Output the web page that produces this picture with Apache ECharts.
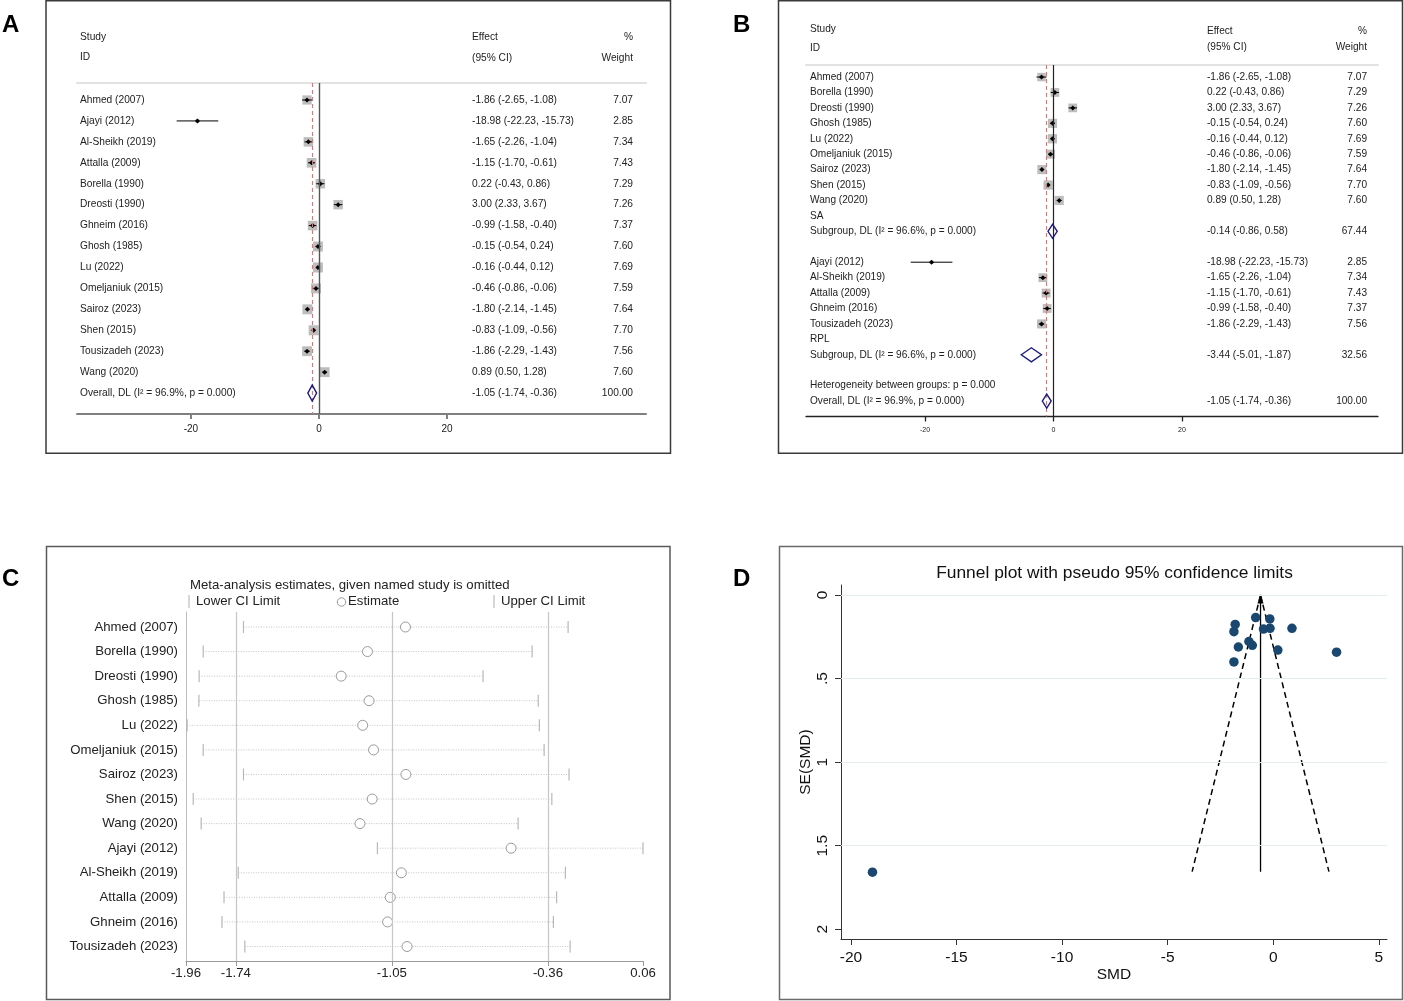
<!DOCTYPE html>
<html><head><meta charset="utf-8">
<script src="https://cdn.jsdelivr.net/npm/echarts@6/dist/echarts.min.js"></script>
<style>html,body{margin:0;padding:0;background:#fff}#c{width:1404px;height:1001px}</style>
</head><body><div id="c"></div>
<script>
const FONT = "'Liberation Sans', Arial, sans-serif";

// ---------- Data: studies (panel A order) ----------
const studies = ['Ahmed (2007)', 'Ajayi (2012)', 'Al-Sheikh (2019)', 'Attalla (2009)', 'Borella (1990)', 'Dreosti (1990)', 'Ghneim (2016)', 'Ghosh (1985)', 'Lu (2022)', 'Omeljaniuk (2015)', 'Sairoz (2023)', 'Shen (2015)', 'Tousizadeh (2023)', 'Wang (2020)'];
const effect = [-1.86, -18.98, -1.65, -1.15, 0.22, 3.00, -0.99, -0.15, -0.16, -0.46, -1.80, -0.83, -1.86, 0.89];
const lowerCI = [-2.65, -22.23, -2.26, -1.70, -0.43, 2.33, -1.58, -0.54, -0.44, -0.86, -2.14, -1.09, -2.29, 0.50];
const upperCI = [-1.08, -15.73, -1.04, -0.61, 0.86, 3.67, -0.40, 0.24, 0.12, -0.06, -1.45, -0.56, -1.43, 1.28];
const weight = [7.07, 2.85, 7.34, 7.43, 7.29, 7.26, 7.37, 7.60, 7.69, 7.59, 7.64, 7.70, 7.56, 7.60];

// overall pooled
const overallLabel = 'Overall, DL (I² = 96.9%, p = 0.000)';
const overallEff = -1.05, overallLow = -1.74, overallUp = -0.36, overallWt = 100.00;

// ---------- Panel B subgroups ----------
const groupSA = ['Ahmed (2007)', 'Borella (1990)', 'Dreosti (1990)', 'Ghosh (1985)', 'Lu (2022)', 'Omeljaniuk (2015)', 'Sairoz (2023)', 'Shen (2015)', 'Wang (2020)'];
const groupRPL = ['Ajayi (2012)', 'Al-Sheikh (2019)', 'Attalla (2009)', 'Ghneim (2016)', 'Tousizadeh (2023)'];
const subLabels = ['Subgroup, DL (I² = 96.6%, p = 0.000)', 'Subgroup, DL (I² = 96.6%, p = 0.000)'];
const subEff = [-0.14, -3.44];
const subLow = [-0.86, -5.01];
const subUp = [0.58, -1.87];
const subWt = [67.44, 32.56];
const hetText = 'Heterogeneity between groups: p = 0.000';

// ---------- Panel C leave-one-out ----------
const studiesC = ['Ahmed (2007)', 'Borella (1990)', 'Dreosti (1990)', 'Ghosh (1985)', 'Lu (2022)', 'Omeljaniuk (2015)', 'Sairoz (2023)', 'Shen (2015)', 'Wang (2020)', 'Ajayi (2012)', 'Al-Sheikh (2019)', 'Attalla (2009)', 'Ghneim (2016)', 'Tousizadeh (2023)'];
const estC = [-0.990, -1.158, -1.274, -1.151, -1.179, -1.131, -0.988, -1.137, -1.191, -0.523, -1.008, -1.057, -1.069, -0.983];
const lowC = [-1.706, -1.884, -1.902, -1.903, -1.955, -1.884, -1.706, -1.928, -1.893, -1.114, -1.729, -1.792, -1.801, -1.700];
const upC = [-0.271, -0.430, -0.647, -0.403, -0.398, -0.377, -0.267, -0.343, -0.492, 0.060, -0.283, -0.322, -0.336, -0.262];
const ticksC = [-1.96, -1.74, -1.05, -0.36, 0.06];
const gridC = [-1.74, -1.05, -0.36];

// ---------- Panel D funnel ----------
const seD = [0.400, 1.658, 0.311, 0.278, 0.329, 0.342, 0.301, 0.199, 0.143, 0.204, 0.176, 0.135, 0.219, 0.199];
const funnelMid = [[-0.6, 0], [-0.6, 1.655]];
const funnelLeft = [[-0.6, 0], [-3.84, 1.655]];
const funnelRight = [[-0.6, 0], [2.64, 1.655]];
const ticksDx = [-20, -15, -10, -5, 0, 5];
const ticksDy = [0, 0.5, 1, 1.5, 2];
const ticksDyLabels = ['0', '.5', '1', '1.5', '2'];
const gridDy = [0, 0.5, 1, 1.5];
const forestTicks = [-20, 0, 20];

// ---------- builders ----------
const grids = [], xAxes = [], yAxes = [], series = [];
function fmtEff(e, l, u) { return e.toFixed(2) + ' (' + l.toFixed(2) + ', ' + u.toFixed(2) + ')'; }

const rowsA = studies.map((s, i) => ({kind: 'study', label: s, eff: effect[i], low: lowerCI[i], up: upperCI[i], wt: weight[i]}));
rowsA.push({kind: 'pooled', label: overallLabel, eff: overallEff, low: overallLow, up: overallUp, wt: overallWt});

function studyRow(name) { const i = studies.indexOf(name); return {kind: 'study', label: name, eff: effect[i], low: lowerCI[i], up: upperCI[i], wt: weight[i]}; }
const rowsB = [];
groupSA.forEach(n => rowsB.push(studyRow(n)));
rowsB.push({kind: 'text', label: 'SA'});
rowsB.push({kind: 'pooled', label: subLabels[0], eff: subEff[0], low: subLow[0], up: subUp[0], wt: subWt[0]});
rowsB.push({kind: 'blank'});
groupRPL.forEach(n => rowsB.push(studyRow(n)));
rowsB.push({kind: 'text', label: 'RPL'});
rowsB.push({kind: 'pooled', label: subLabels[1], eff: subEff[1], low: subLow[1], up: subUp[1], wt: subWt[1]});
rowsB.push({kind: 'blank'});
rowsB.push({kind: 'text', label: hetText});
rowsB.push({kind: 'pooled', label: overallLabel, eff: overallEff, low: overallLow, up: overallUp, wt: overallWt});

function buildForest(o) {
  const gi = grids.length;
  grids.push({left: o.left, top: o.top, width: o.right - o.left, height: o.bottom - o.top, outerBoundsMode: 'none', containLabel: false});
  const xi = xAxes.length, yi = yAxes.length;
  const rows = o.rows;
  const ls = {color: o.axisColor, width: o.axisWidth};
  xAxes.push({gridIndex: gi, type: 'value', min: o.xMin, max: o.xMax,
    axisLine: {show: true, onZero: false, lineStyle: ls},
    axisTick: {show: true, customValues: forestTicks, length: 5, lineStyle: ls},
    axisLabel: {show: true, customValues: forestTicks, fontSize: o.tickFont, fontFamily: FONT, color: '#222', margin: o.tickMargin},
    splitLine: {show: false}});
  xAxes.push({gridIndex: gi, type: 'value', position: 'top', min: o.xMin, max: o.xMax,
    axisLine: {show: true, onZero: false, lineStyle: {color: '#e2e2e2', width: 2}},
    axisTick: {show: false}, axisLabel: {show: false}, splitLine: {show: false}});
  const all = rows.map((r, i) => i);
  const base = {gridIndex: gi, type: 'value', inverse: true, min: o.yMin, max: o.yMax,
    axisLine: {show: false}, axisTick: {show: false}, splitLine: {show: false}};
  const lab = {fontSize: o.font, fontFamily: FONT, color: '#222', inside: true};
  yAxes.push(Object.assign({}, base, {position: 'left',
    axisLabel: Object.assign({}, lab, {margin: o.labelInset, align: 'left',
      customValues: all.filter(i => rows[i].label), formatter: v => rows[Math.round(v)].label})}));
  yAxes.push(Object.assign({}, base, {position: 'right',
    axisLabel: Object.assign({}, lab, {margin: o.effInset, align: 'left',
      customValues: all.filter(i => rows[i].eff != null),
      formatter: v => { const r = rows[Math.round(v)]; return fmtEff(r.eff, r.low, r.up); }})}));
  yAxes.push(Object.assign({}, base, {position: 'right',
    axisLabel: Object.assign({}, lab, {margin: o.wtInset, align: 'right',
      customValues: all.filter(i => rows[i].wt != null),
      formatter: v => rows[Math.round(v)].wt.toFixed(2)})}));

  const sRows = all.filter(i => rows[i].kind === 'study');
  const pRows = all.filter(i => rows[i].kind === 'pooled');
  // reference lines
  series.push({type: 'scatter', xAxisIndex: xi, yAxisIndex: yi, z: 1, silent: true, data: [],
    markLine: {silent: true, symbol: ['none', 'none'], label: {show: false}, animation: false,
      data: [
        {xAxis: 0, lineStyle: {color: o.zeroColor, width: o.zeroWidth, type: 'solid'}},
        {xAxis: overallEff, lineStyle: {color: '#c97f82', width: 1.1, type: [4, 3]}}
      ]}});
  // weight boxes
  series.push({type: 'scatter', xAxisIndex: xi, yAxisIndex: yi, z: 2, silent: true, symbol: 'rect',
    symbolSize: v => v[2] * o.boxScale, itemStyle: {color: '#bdbdbd', opacity: 1},
    data: sRows.map(i => [rows[i].eff, i, rows[i].wt])});
  // CI lines
  series.push({type: 'custom', xAxisIndex: xi, yAxisIndex: yi, z: 3, silent: true, encode: {x: [1, 2], y: 0},
    data: sRows.map(i => [i, rows[i].low, rows[i].up]),
    renderItem: (p, api) => {
      const a = api.coord([api.value(1), api.value(0)]), b = api.coord([api.value(2), api.value(0)]);
      return {type: 'line', shape: {x1: a[0], y1: a[1], x2: b[0], y2: b[1]}, style: {stroke: '#000', lineWidth: 1}};
    }});
  // point estimates
  series.push({type: 'scatter', xAxisIndex: xi, yAxisIndex: yi, z: 4, silent: true, symbol: 'diamond', symbolSize: 5,
    itemStyle: {color: '#000', opacity: 1}, data: sRows.map(i => [rows[i].eff, i])});
  // pooled diamonds
  const h = o.diamondHalf;
  series.push({type: 'custom', xAxisIndex: xi, yAxisIndex: yi, z: 5, silent: true, encode: {x: [1, 2, 3], y: 0},
    data: pRows.map(i => [i, rows[i].eff, rows[i].low, rows[i].up]),
    renderItem: (p, api) => {
      const r = api.value(0);
      const c = api.coord([api.value(1), r]), l = api.coord([api.value(2), r]), u = api.coord([api.value(3), r]);
      return {type: 'polygon', shape: {points: [[l[0], c[1]], [c[0], c[1] - h], [u[0], c[1]], [c[0], c[1] + h]]},
        style: {fill: 'none', stroke: '#1d1d7e', lineWidth: 1.4}};
    }});
}

buildForest({rows: rowsA, left: 77, right: 646, top: 83, bottom: 414, xMin: -37.8, xMax: 51.1,
  yMin: -0.812, yMax: 15.0, font: 10.2, tickFont: 10, tickMargin: 10, axisColor: '#808080', axisWidth: 2,
  labelInset: 3, effInset: 174, wtInset: 13, zeroColor: '#555', zeroWidth: 1.4, boxScale: 1.3, diamondHalf: 8});
buildForest({rows: rowsB, left: 806, right: 1378, top: 65, bottom: 416.5, xMin: -38.52, xMax: 50.51,
  yMin: -0.78, yMax: 22.0, font: 10.1, tickFont: 7, tickMargin: 10, axisColor: '#222', axisWidth: 1.3,
  labelInset: 4, effInset: 171, wtInset: 11, zeroColor: '#222', zeroWidth: 1.2, boxScale: 1.2, diamondHalf: 7});

// ---------- Panel C ----------
(function () {
  const gi = grids.length;
  grids.push({left: 186, top: 612, width: 457, height: 349, outerBoundsMode: 'none', containLabel: false});
  const xi = xAxes.length, yi = yAxes.length;
  xAxes.push({gridIndex: gi, type: 'value', min: -1.96, max: 0.06,
    axisLine: {show: true, onZero: false, lineStyle: {color: '#9a9a9a', width: 1}},
    axisTick: {show: true, customValues: ticksC, length: 5, lineStyle: {color: '#9a9a9a'}},
    axisLabel: {customValues: ticksC, formatter: v => v.toFixed(2), fontSize: 13.2, fontFamily: FONT, color: '#222', margin: 6},
    splitLine: {show: false}});
  const idx = studiesC.map((s, i) => i);
  yAxes.push({gridIndex: gi, type: 'value', inverse: true, min: -0.61, max: 13.59,
    axisLine: {show: true, onZero: false, lineStyle: {color: '#bdbdbd', width: 1}},
    axisTick: {show: false}, splitLine: {show: false},
    axisLabel: {customValues: idx, formatter: v => studiesC[Math.round(v)], fontSize: 13.2, fontFamily: FONT, color: '#222', margin: 8}});
  series.push({type: 'scatter', xAxisIndex: xi, yAxisIndex: yi, data: [], z: 1, silent: true,
    markLine: {silent: true, symbol: ['none', 'none'], label: {show: false}, animation: false,
      lineStyle: {color: '#c6c6c6', width: 1.2, type: 'solid'}, data: gridC.map(v => ({xAxis: v}))}});
  series.push({type: 'custom', xAxisIndex: xi, yAxisIndex: yi, z: 2, silent: true, encode: {x: [1, 2], y: 0},
    data: idx.map(i => [i, lowC[i], upC[i]]),
    renderItem: (p, api) => {
      const a = api.coord([api.value(1), api.value(0)]), b = api.coord([api.value(2), api.value(0)]);
      return {type: 'line', shape: {x1: a[0], y1: a[1], x2: b[0], y2: b[1]}, style: {stroke: '#c4c4c4', lineWidth: 1, lineDash: [1, 1.5]}};
    }});
  const cap = {type: 'scatter', xAxisIndex: xi, yAxisIndex: yi, z: 3, silent: true, symbol: 'rect', symbolSize: [1.2, 12], itemStyle: {color: '#b8b8b8', opacity: 1}};
  series.push(Object.assign({}, cap, {name: 'Lower CI Limit', data: idx.map(i => [lowC[i], i])}));
  series.push(Object.assign({}, cap, {name: 'Upper CI Limit', data: idx.map(i => [upC[i], i])}));
  series.push({type: 'scatter', name: 'Estimate', xAxisIndex: xi, yAxisIndex: yi, z: 4, silent: true, symbol: 'circle', symbolSize: 10,
    itemStyle: {color: '#fff', borderColor: '#9a9a9a', borderWidth: 1, opacity: 1}, data: idx.map(i => [estC[i], i])});
})();

// ---------- Panel D ----------
(function () {
  const gi = grids.length;
  grids.push({left: 841, top: 585, width: 546, height: 354, outerBoundsMode: 'none', containLabel: false});
  const xi = xAxes.length, yi = yAxes.length;
  const ax = {color: '#333', width: 1};
  xAxes.push({gridIndex: gi, type: 'value', min: -20.47, max: 5.39,
    name: 'SMD', nameLocation: 'middle', nameGap: 25, nameTextStyle: {fontSize: 15.5, fontFamily: FONT, color: '#111'},
    axisLine: {show: true, onZero: false, lineStyle: ax},
    axisTick: {show: true, customValues: ticksDx, length: 6, lineStyle: ax},
    axisLabel: {customValues: ticksDx, fontSize: 15.5, fontFamily: FONT, color: '#111', margin: 11},
    splitLine: {show: false}});
  yAxes.push({gridIndex: gi, type: 'value', inverse: true, min: -0.06, max: 2.058,
    name: 'SE(SMD)', nameLocation: 'middle', nameGap: 27, nameRotate: 90, nameTextStyle: {fontSize: 15.5, fontFamily: FONT, color: '#111'},
    axisLine: {show: true, onZero: false, lineStyle: ax},
    axisTick: {show: true, customValues: ticksDy, length: 6, lineStyle: ax},
    axisLabel: {customValues: ticksDy, rotate: 90, formatter: v => ticksDyLabels[ticksDy.indexOf(v)] ?? String(v),
      fontSize: 15.5, fontFamily: FONT, color: '#111', margin: 10},
    splitLine: {show: false}});
  series.push({type: 'scatter', xAxisIndex: xi, yAxisIndex: yi, data: [], z: 1, silent: true,
    markLine: {silent: true, symbol: ['none', 'none'], label: {show: false}, animation: false,
      lineStyle: {color: '#e4edf0', width: 1, type: 'solid'}, data: gridDy.map(v => ({yAxis: v}))}});
  const dl = {type: 'line', xAxisIndex: xi, yAxisIndex: yi, z: 2, silent: true, symbol: 'none',
    lineStyle: {color: '#000', width: 1.5, type: [6, 4]}};
  series.push(Object.assign({}, dl, {data: funnelLeft}));
  series.push(Object.assign({}, dl, {data: funnelRight}));
  series.push({type: 'line', xAxisIndex: xi, yAxisIndex: yi, z: 2, silent: true,
    lineStyle: {color: '#000', width: 1.3},
    data: [{value: funnelMid[0], symbol: 'triangle', symbolSize: [6, 9], symbolOffset: [0, 4], itemStyle: {color: '#000'}},
           {value: funnelMid[1], symbol: 'none'}]});
  series.push({type: 'scatter', xAxisIndex: xi, yAxisIndex: yi, z: 3, silent: true, symbolSize: 9.5,
    itemStyle: {color: '#1a476f', opacity: 1}, data: effect.map((e, i) => [e, seD[i]])});
})();

// ---------- graphics: frames, letters, headers, legend ----------
function txt(t, x, y, size, opt) {
  return Object.assign({type: 'text', silent: true, z: 10, style: Object.assign({text: t, x: x, y: y, fontSize: size, fontFamily: FONT,
    fill: '#222', align: 'left', verticalAlign: 'middle'}, opt || {})});
}
function frame(x, y, w, h, c) {
  return {type: 'rect', silent: true, z: 0, shape: {x: x, y: y, width: w, height: h}, style: {fill: 'none', stroke: c, lineWidth: 1.5}};
}
const graphics = [
  frame(46, 0.75, 624.5, 452.5, '#3a3a3a'),
  frame(778.5, 0.75, 624, 452.5, '#3a3a3a'),
  frame(46.5, 546.5, 623.5, 453, '#5a5a5a'),
  frame(779.5, 546.5, 623, 453, '#6a6a6a'),
  txt('A', 2, 25, 24, {fontWeight: 'bold', fill: '#000'}),
  txt('B', 733, 25, 24, {fontWeight: 'bold', fill: '#000'}),
  txt('C', 2, 579, 24, {fontWeight: 'bold', fill: '#000'}),
  txt('D', 733, 579, 24, {fontWeight: 'bold', fill: '#000'}),
  // A headers
  txt('Study', 80, 37.5, 10.2), txt('ID', 80, 57.5, 10.2),
  txt('Effect', 472, 37.5, 10.2), txt('(95% CI)', 472, 58.5, 10.2),
  txt('%', 633, 37.5, 10.2, {align: 'right'}), txt('Weight', 633, 58.5, 10.2, {align: 'right'}),
  // B headers
  txt('Study', 810, 29, 10.1), txt('ID', 810, 48.5, 10.1),
  txt('Effect', 1207, 31.5, 10.1), txt('(95% CI)', 1207, 47.5, 10.1),
  txt('%', 1367, 31.5, 10.1, {align: 'right'}), txt('Weight', 1367, 47.5, 10.1, {align: 'right'}),
  // C title and legend
  txt('Meta-analysis estimates, given named study is omitted', 190, 585, 13.2),
  {type: 'line', silent: true, z: 10, shape: {x1: 189, y1: 595, x2: 189, y2: 608}, style: {stroke: '#bdbdbd', lineWidth: 1.2}},
  txt('Lower CI Limit', 196, 601.5, 13.2),
  {type: 'circle', silent: true, z: 10, shape: {cx: 341.5, cy: 602, r: 4.2}, style: {fill: '#fff', stroke: '#9a9a9a', lineWidth: 1}},
  txt('Estimate', 348, 601.5, 13.2),
  {type: 'line', silent: true, z: 10, shape: {x1: 494, y1: 595, x2: 494, y2: 608}, style: {stroke: '#bdbdbd', lineWidth: 1.2}},
  txt('Upper CI Limit', 501, 601.5, 13.2),
  // D title
  txt('Funnel plot with pseudo 95% confidence limits', 1114.5, 573.5, 17.4, {align: 'center', fill: '#111'})
];

const chart = echarts.init(document.getElementById('c'), null, {renderer: 'canvas', width: 1404, height: 1001});
chart.setOption({
  animation: false,
  backgroundColor: '#fff',
  textStyle: {fontFamily: FONT},
  grid: grids,
  xAxis: xAxes,
  yAxis: yAxes,
  series: series,
  graphic: graphics
});
</script></body></html>
